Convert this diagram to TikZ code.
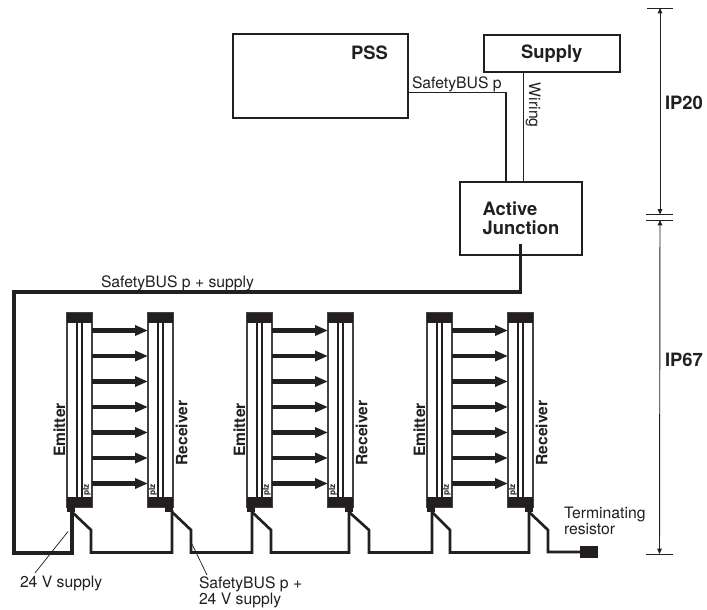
\documentclass[tikz,border=0pt]{standalone}
\usepackage{fontspec}
\setmainfont{TeX Gyre Heros}
\usetikzlibrary{arrows.meta}
\definecolor{ink}{HTML}{231F20}
\newcommand{\fsn}{\fontsize{11.8}{12}\selectfont}
\newcommand{\fsb}{\fontsize{13.8}{14.25}\selectfont\bfseries}
\newcommand{\fsm}{\fontsize{11.7}{12}\selectfont\bfseries}
\tikzset{
  box/.style={draw=ink,fill=white,inner sep=0pt,outer sep=0pt},
  thickbox/.style={box,line width=1.7pt},
  txt/.style={inner sep=0pt,outer sep=0pt,text=ink,font=\fsn},
  head/.style={inner sep=0pt,outer sep=0pt,text=ink,font=\fsb},
  sidehead/.style={inner sep=0pt,outer sep=0pt,text=ink,font=\fsm,rotate=90},
  bus/.style={draw=ink,line width=2.3pt,line join=miter},
  wire/.style={draw=ink,line width=2pt,line join=miter},
  thin/.style={draw=ink,line width=0.55pt},
  dim/.style={draw=ink,line width=0.7pt},
  beam/.style={draw=ink,line width=3.4pt,-{Triangle[length=9.75pt,width=7.5pt]}},
  bar/.style={draw=ink!85,line width=1.1pt,fill=white,inner sep=0pt,outer sep=0pt,minimum width=18.75pt,minimum height=145.5pt},
  capblock/.style={fill=ink,inner sep=0pt,outer sep=0pt,minimum width=18.75pt,minimum height=7.5pt},
  tabblock/.style={fill=ink,inner sep=0pt,outer sep=0pt,minimum width=5.6pt,minimum height=5.25pt},
  plzmark/.style={inner sep=0pt,outer sep=0pt,text=ink,font=\fontsize{6.2}{6}\selectfont\bfseries,rotate=90},
  resistor/.style={fill=ink,inner sep=0pt,outer sep=0pt,minimum width=13.5pt,minimum height=9pt}
}
\begin{document}
\begin{tikzpicture}[x=0.75pt,y=-0.75pt]
\useasboundingbox (0,0) rectangle (707,610);
\fill[white] (0,0) rectangle (707,610);

% upper boxes
\node[thickbox,minimum width=131.25pt,minimum height=63pt] (pss) at (320.5,76) {};
\node[head] (psslabel) at (369.5,52.5) {PSS};
\node[thickbox,minimum width=102pt,minimum height=27.75pt,font=\fsb,text=ink] (supply) at (551.7,53.5) {Supply};
\node[box,line width=1.4pt,minimum width=91.5pt,minimum height=54.75pt,font=\fsb,text=ink,align=left] (aj) at (521,218.5) {Active\\Junction};

% upper connectors
\coordinate (busbend) at (506,92.5);
\draw[draw=ink,line width=1pt] (pss.east |- busbend) -- (busbend) -- (busbend |- aj.north);
\draw[draw=ink,line width=0.7pt] (supply.south -| 523,0) -- (aj.north -| 523,0);
\node[txt,anchor=base west] (sbp) at (412,88.5) {SafetyBUS p};
\node[txt,anchor=base west,rotate=-90] (wiring) at (529,83) {Wiring};

% light curtains
\foreach \n/\ex/\rx in {1/67/148,2/247/328,3/427/508}{
  \node[bar] (e\n) at (\ex+12.5,410) {};
  \node[bar] (r\n) at (\rx+12.5,410) {};
  \foreach \k in {10,15}{
    \draw[draw=ink,line width=0.8pt] (\ex+\k,320) -- (\ex+\k,500);
    \draw[draw=ink,line width=0.8pt] (\rx+\k,320) -- (\rx+\k,500);
  }
  \node[capblock] (etop\n) at (\ex+12.5,318) {};
  \node[capblock] (rtop\n) at (\rx+12.5,318) {};
  \node[capblock] (ebot\n) at (\ex+12.5,502) {};
  \node[capblock] (rbot\n) at (\rx+12.5,502) {};
  \node[tabblock] (etab\n) at (\ex+3.8,508.5) {};
  \node[tabblock] (rtab\n) at (\rx+21.2,508.5) {};
  \node[plzmark] (eplz\n) at (\ex+19.8,490) {plz};
  \node[plzmark] (rplz\n) at (\rx+5,490) {plz};
  \node[sidehead] (elabel\n) at (\ex-7.5,430) {Emitter};
  \node[sidehead] (rlabel\n) at (\rx+33.7,433) {Receiver};
  \foreach \y in {330.5,356,381.5,407,432.5,458,483.5}{
    \draw[beam] (e\n.east |- 0,\y) -- (r\n.west |- 0,\y);
  }
}

% bus wiring
\coordinate (ajout) at (520.5,244);
\coordinate (c1) at (14,292);
\coordinate (c2) at (14,553);
\coordinate (j1) at (72,510);
\coordinate (j2) at (172,510);
\coordinate (j3) at (252,510);
\coordinate (j4) at (349,510);
\coordinate (j5) at (432,510);
\coordinate (j6) at (529,510);
\node[resistor] (term) at (589,552) {};
\draw[bus] (ajout) -- (ajout |- c1) -- (c1) -- (c2) -- (j1 |- c2) -- (j1);
\draw[wire] (72,512) -- (91,530) -- (91,552.5) -- (j2 |- 0,552.5) -- (j2);
\draw[wire] (172,512) -- (191,530) -- (191,552.5) -- (j3 |- 0,552.5) -- (j3);
\draw[wire] (252,512) -- (271,530) -- (271,552.5) -- (j4 |- 0,552.5) -- (j4);
\draw[wire] (349,512) -- (369,530) -- (369,552.5) -- (j5 |- 0,552.5) -- (j5);
\draw[wire] (432,512) -- (450,530) -- (450,552.5) -- (j6 |- 0,552.5) -- (j6);
\draw[wire] (529,512) -- (548,530) -- (548,552) -- (term.west);

% bus labels
\node[txt,anchor=base west] (sbps) at (101,287) {SafetyBUS p + supply};
\node[txt,anchor=base west] (v24) at (20,587) {24 V supply};
\node[txt,anchor=base west] (sb24a) at (199,588) {SafetyBUS p +};
\node[txt,anchor=base west] (sb24b) at (199,604) {24 V supply};
\node[txt,anchor=base west] (term1) at (564,518) {Terminating};
\node[txt,anchor=base west] (term2) at (564,534) {resistor};
\draw[thin] (68,531.5) -- (35,573);
\draw[thin] (190,540) -- (207,575);

% protection zones
\coordinate (t0) at (660,8);
\coordinate (t1) at (660,214.5);
\coordinate (t2) at (660,220);
\coordinate (t3) at (659.5,554);
\draw[dim] (647,8) -- (673,8);
\draw[dim] (646,214.5) -- (673,214.5);
\draw[dim] (646,220) -- (673,220);
\draw[dim] (646,554) -- (672.5,554);
\draw[dim,{Triangle[length=4pt,width=3.4pt]}-{Triangle[length=4pt,width=3.4pt]}] (t0) -- (t1);
\draw[dim,{Triangle[length=4pt,width=3.4pt]}-{Triangle[length=4pt,width=3.4pt]}] (t2) -- (t3);
\node[head] (ip20) at (684,103) {IP20};
\node[head] (ip67) at (684,360) {IP67};
\end{tikzpicture}
\end{document}
